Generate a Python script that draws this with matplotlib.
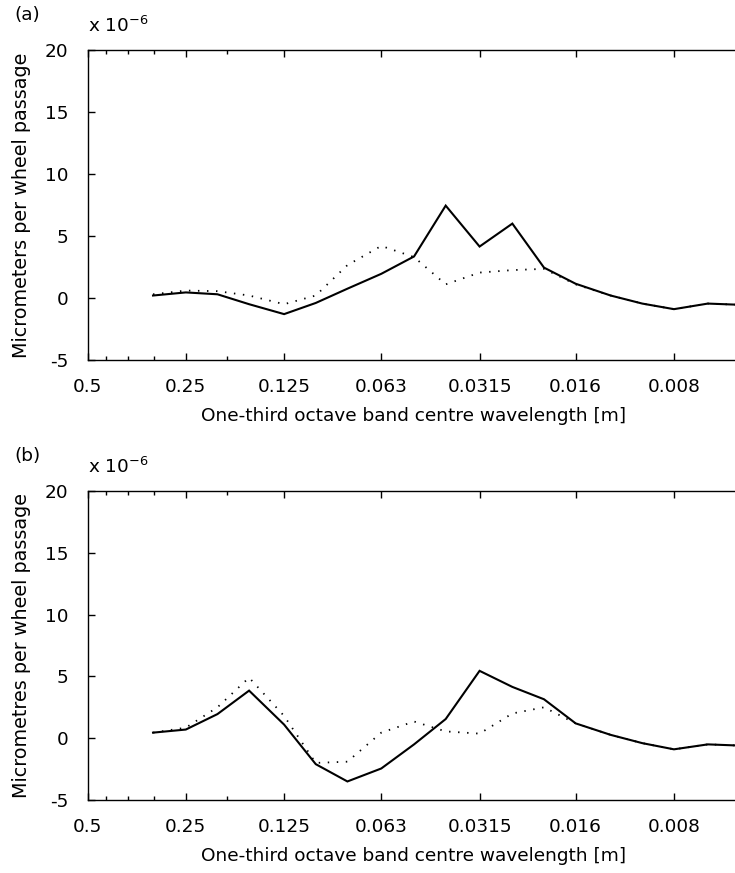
import numpy as np
import matplotlib.pyplot as plt
from matplotlib.ticker import FixedLocator, NullFormatter

plt.rcParams['axes.unicode_minus'] = False
plt.rcParams['font.family'] = 'DejaVu Sans'

# ── data (values in units of 1e-6) ─────────────────────────────────────────
wavelength = [0.315, 0.25, 0.2, 0.16, 0.125, 0.1, 0.08, 0.063, 0.05, 0.04,
              0.0315, 0.025, 0.02, 0.016, 0.0125, 0.01, 0.008, 0.0063, 0.005]

a_solid = [0.2, 0.45, 0.3, -0.5, -1.3, -0.4, 0.75, 1.95, 3.35, 7.45,
           4.15, 6.0, 2.45, 1.15, 0.2, -0.45, -0.9, -0.45, -0.55]
a_dotted = [0.3, 0.6, 0.55, 0.2, -0.5, 0.2, 2.65, 4.2, 3.3, 1.1,
            2.05, 2.25, 2.35, 1.1, 0.2, -0.45, -0.9, -0.45, -0.55]

b_solid = [0.45, 0.7, 1.95, 3.85, 1.1, -2.1, -3.5, -2.45, -0.5, 1.55,
           5.45, 4.15, 3.15, 1.2, 0.27, -0.4, -0.9, -0.5, -0.6]
b_dotted = [0.45, 0.85, 2.5, 4.9, 1.8, -2.0, -1.9, 0.45, 1.35, 0.55,
            0.37, 2.0, 2.5, 1.2, 0.27, -0.4, -0.9, -0.5, -0.6]

xticks = [0.5, 0.25, 0.125, 0.063, 0.0315, 0.016, 0.008]
xticklabels = ['0.5', '0.25', '0.125', '0.063', '0.0315', '0.016', '0.008']
xminor = [0.4375, 0.375, 0.3125, 0.1875]
yticks = [-5, 0, 5, 10, 15, 20]

panels = [
    ('(a)', a_solid, a_dotted, 'Micrometers per wheel passage'),
    ('(b)', b_solid, b_dotted, 'Micrometres per wheel passage'),
]

fig = plt.figure(figsize=(7.35, 8.73), dpi=100)
W, H = 735.0, 873.0
left, right = 87.5, 740.6
boxes = [(50, 360), (491, 800)]   # top, bottom in pixels

for (tag, solid, dotted, ylab), (top, bot) in zip(panels, boxes):
    ax = fig.add_axes([left / W, 1 - bot / H, (right - left) / W, (bot - top) / H])
    ax.plot(wavelength, dotted, color='black', lw=1.3, linestyle=(0, (0.8, 4.2)))
    ax.plot(wavelength, solid, color='black', lw=1.5, solid_joinstyle='miter')
    ax.set_xscale('log')
    ax.set_xlim(0.5, 0.005)
    ax.set_ylim(-5, 20)
    ax.xaxis.set_major_locator(FixedLocator(xticks))
    ax.set_xticklabels(xticklabels)
    ax.xaxis.set_minor_locator(FixedLocator(xminor))
    ax.xaxis.set_minor_formatter(NullFormatter())
    ax.set_yticks(yticks)
    ax.tick_params(which='both', direction='in', top=True, right=False,
                   labelsize=13.3, width=1)
    ax.tick_params(axis='x', pad=13)
    ax.tick_params(axis='y', pad=14)
    ax.tick_params(which='major', length=5)
    ax.tick_params(which='minor', length=3)
    for s in ax.spines.values():
        s.set_linewidth(1.0)
    ax.set_xlabel('One-third octave band centre wavelength [m]', fontsize=13.3,
                  labelpad=8)
    ax.set_ylabel(ylab, fontsize=13.8, labelpad=10)
    fig.text(14 / W, 1 - (top - 35) / H, tag, fontsize=13.3, ha='left', va='center')
    fig.text(88 / W, 1 - (top - 24) / H, r'x 10$^{-6}$', fontsize=13.3,
             ha='left', va='center')

fig.savefig('out.png', dpi=100)
